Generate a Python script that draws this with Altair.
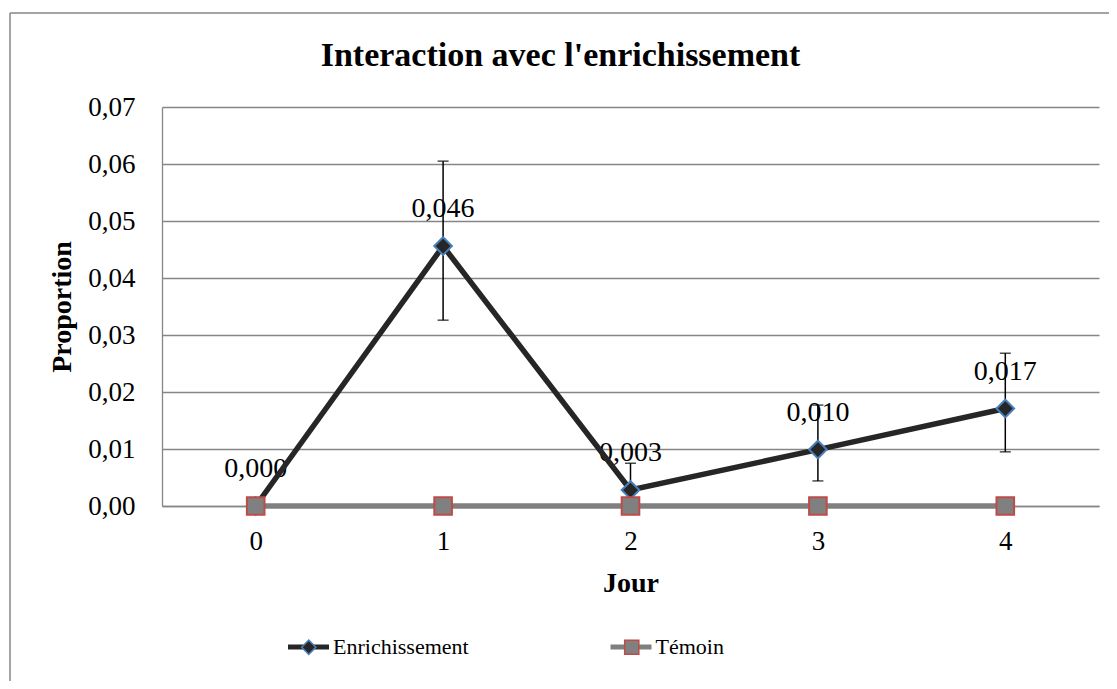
import altair as alt
import pandas as pd

# ---- data ----
jours = ["0", "1", "2", "3", "4"]
enrichissement = [0.0, 0.0456, 0.0028, 0.0099, 0.0171]
temoin = [0.0, 0.0, 0.0, 0.0, 0.0]
err_bas = [None, 0.0326, 0.0006, 0.0044, 0.0095]
err_haut = [None, 0.0605, 0.0075, 0.0177, 0.0268]
series = ["Enrichissement", "Témoin"]
y_ticks = [0.0, 0.01, 0.02, 0.03, 0.04, 0.05, 0.06, 0.07]

rows = []
for j, v, lo, hi in zip(jours, enrichissement, err_bas, err_haut):
    rows.append({"jour": j, "serie": series[0], "serie_p": series[0],
                 "value": v, "lo": lo, "hi": hi})
for j, v in zip(jours, temoin):
    rows.append({"jour": j, "serie": series[1], "serie_p": series[1],
                 "value": v, "lo": None, "hi": None})
df = pd.DataFrame(rows)

FONT = "Liberation Serif"
GRID = "#868686"
W, H = 937, 399

line_colors = ["#262626", "#808080"]
fill_colors = ["#262626", "#808080"]
stroke_colors = ["#4A7EBB", "#BE4B48"]
shapes = ["diamond", "square"]

x_enc = alt.X(
    "jour:O",
    sort=jours,
    scale=alt.Scale(type="point", padding=0.5),
    axis=alt.Axis(
        title="Jour", labelAngle=0, ticks=False, grid=False,
        domainColor=GRID, domainWidth=1.3,
        labelFont=FONT, labelFontSize=27, labelColor="black", labelPadding=22,
        titleFont=FONT, titleFontSize=28, titleFontWeight="bold", titleColor="black",
        titleX=W / 2, titleY=77, titleBaseline="middle", titleAlign="center",
    ),
)
y_scale = alt.Scale(domain=[0, 0.07], nice=False, zero=True)
y_enc = alt.Y(
    "value:Q",
    scale=y_scale,
    axis=alt.Axis(
        title="Proportion", values=y_ticks,
        labelExpr="replace(format(datum.value, '.2f'), '.', ',')",
        ticks=False, grid=True, gridColor=GRID, gridWidth=1.3,
        domainColor=GRID, domainWidth=1.3,
        labelFont=FONT, labelFontSize=27, labelColor="black", labelPadding=27,
        labelBaseline="middle",
        titleFont=FONT, titleFontSize=28, titleFontWeight="bold", titleColor="black",
        titleX=-100, titleY=H / 2, titleAngle=270, titleBaseline="middle",
        titleAlign="center",
    ),
)

base = alt.Chart(df)

# outer frame (left and top edges visible in the reference)
frame_left = alt.Chart(alt.Data(values=[{}])).mark_rule(
    color=GRID, strokeWidth=1.5).encode(
    x=alt.value(-152), y=alt.value(-94), y2=alt.value(700))
frame_top = alt.Chart(alt.Data(values=[{}])).mark_rule(
    color=GRID, strokeWidth=1.5).encode(
    x=alt.value(-152), x2=alt.value(1200), y=alt.value(-94))

enr = base.transform_filter(alt.datum.serie == series[0])

labels = enr.transform_calculate(
    lab="replace(format(datum.value, '.3f'), '.', ',')"
).mark_text(font=FONT, fontSize=28, color="black", baseline="middle",
            align="center", dy=-37).encode(x=x_enc, y=y_enc, text="lab:N")

err = enr.transform_filter("isValid(datum.lo)")
err_rule = err.mark_rule(color="black", strokeWidth=1.5).encode(
    x=x_enc, y=alt.Y("lo:Q", scale=y_scale), y2="hi:Q")
cap_lo = err.mark_tick(color="black", thickness=1.5, size=11).encode(
    x=x_enc, y=alt.Y("lo:Q", scale=y_scale))
cap_hi = err.mark_tick(color="black", thickness=1.5, size=11).encode(
    x=x_enc, y=alt.Y("hi:Q", scale=y_scale))

lines = base.mark_line(strokeWidth=5.5).encode(
    x=x_enc, y=y_enc,
    color=alt.Color(
        "serie:N",
        scale=alt.Scale(domain=series, range=line_colors),
        legend=alt.Legend(
            title=None, orient="none", direction="horizontal",
            legendX=123.5, legendY=517, padding=0,
            symbolType="stroke", symbolSize=1681, symbolStrokeWidth=5,
            labelFont=FONT, labelFontSize=22, labelColor="black",
            labelOffset=1.5, columnPadding=130.5,
        ),
    ),
    order=alt.Order("jour:O"),
)


def point_legend():
    return alt.Legend(
        title=None, orient="none", direction="horizontal",
        legendX=135.75, legendY=529.25, padding=0,
        symbolSize=200, symbolStrokeWidth=1.5,
        labelFont=FONT, labelFontSize=22, labelExpr="''",
        labelOffset=1.5, columnPadding=299,
    )


points = base.mark_point(filled=True, opacity=1, strokeWidth=2, size=310).encode(
    x=x_enc, y=y_enc,
    shape=alt.Shape("serie_p:N", scale=alt.Scale(range=shapes),
                    legend=point_legend()),
    fill=alt.Fill("serie_p:N", scale=alt.Scale(range=fill_colors),
                  legend=point_legend()),
    stroke=alt.Stroke("serie_p:N", scale=alt.Scale(range=stroke_colors),
                      legend=point_legend()),
)

chart = alt.layer(
    frame_left, frame_top, labels, err_rule, cap_lo, cap_hi, lines, points
).properties(
    width=W, height=H,
    title=alt.TitleParams(
        "Interaction avec l'enrichissement", font=FONT, fontSize=34,
        fontWeight="bold", color="black", anchor="middle", dx=-70,
        offset=0, baseline="alphabetic", dy=88,
    ),
    autosize=alt.AutoSizeParams(type="none"),
    padding={"left": 154, "top": 99, "right": 10, "bottom": 175},
).configure_view(stroke=None)

chart.save("out.html", embed_options={"renderer": "svg", "actions": False})
